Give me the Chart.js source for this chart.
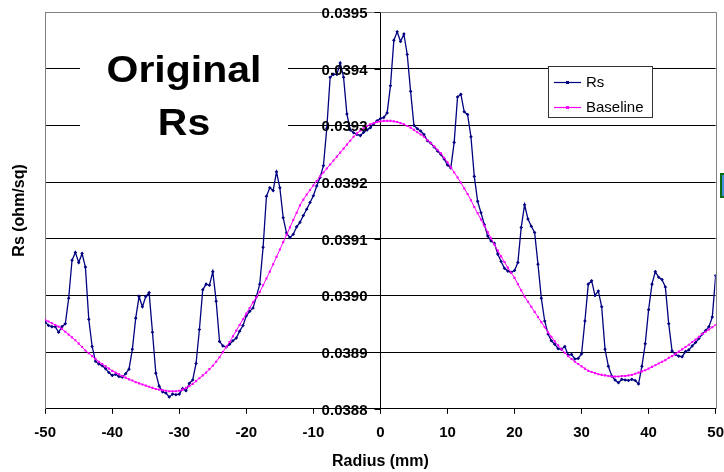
<!DOCTYPE html>
<html>
<head>
<meta charset="utf-8">
<script src="https://cdn.jsdelivr.net/npm/chart.js@4.4.1/dist/chart.umd.min.js"></script>
<style>
  html, body { margin: 0; padding: 0; background: #fff; }
</style>
</head>
<body>
<canvas id="rsChart" width="724" height="472"></canvas>
<script>
// radius positions (mm)
const radius = [
  -50,-49.5,-49,-48.5,-48,-47.5,-47,-46.5,-46,-45.5,-45,-44.5,-44,-43.5,-43,-42.5,-42,-41.5,-41,-40.5,
  -40,-39.5,-39,-38.5,-38,-37.5,-37,-36.5,-36,-35.5,-35,-34.5,-34,-33.5,-33,-32.5,-32,-31.5,-31,-30.5,
  -30,-29.5,-29,-28.5,-28,-27.5,-27,-26.5,-26,-25.5,-25,-24.5,-24,-23.5,-23,-22.5,-22,-21.5,-21,-20.5,
  -20,-19.5,-19,-18.5,-18,-17.5,-17,-16.5,-16,-15.5,-15,-14.5,-14,-13.5,-13,-12.5,-12,-11.5,-11,-10.5,
  -10,-9.5,-9,-8.5,-8,-7.5,-7,-6.5,-6,-5.5,-5,-4.5,-4,-3.5,-3,-2.5,-2,-1.5,-1,-0.5,
  0,0.5,1,1.5,2,2.5,3,3.5,4,4.5,5,5.5,6,6.5,7,7.5,8,8.5,9,9.5,
  10,10.5,11,11.5,12,12.5,13,13.5,14,14.5,15,15.5,16,16.5,17,17.5,18,18.5,19,19.5,
  20,20.5,21,21.5,22,22.5,23,23.5,24,24.5,25,25.5,26,26.5,27,27.5,28,28.5,29,29.5,
  30,30.5,31,31.5,32,32.5,33,33.5,34,34.5,35,35.5,36,36.5,37,37.5,38,38.5,39,39.5,
  40,40.5,41,41.5,42,42.5,43,43.5,44,44.5,45,45.5,46,46.5,47,47.5,48,48.5,49,49.5,
  50
];

// measured sheet resistance (ohm/sq)
const rs = [
  0.038953,0.038947,0.038945,0.038945,0.038935,0.038945,0.038950,0.038995,0.039062,0.039076,0.039058,0.039074,0.039050,0.038958,0.038910,0.038884,0.038879,0.038876,0.038871,0.038864,
  0.038859,0.038861,0.038857,0.038856,0.038862,0.038870,0.038905,0.038960,0.038998,0.038980,0.038998,0.039005,0.038935,0.038863,0.038840,0.038830,0.038828,0.038821,0.038826,0.038825,
  0.038826,0.038836,0.038832,0.038845,0.038851,0.038880,0.038940,0.039010,0.039020,0.039018,0.039042,0.038990,0.038919,0.038911,0.038909,0.038914,0.038920,0.038925,0.038937,0.038947,
  0.038964,0.038972,0.038978,0.038998,0.039020,0.039085,0.039175,0.039190,0.039185,0.039218,0.039190,0.039137,0.039110,0.039102,0.039108,0.039121,0.039129,0.039141,0.039152,0.039164,
  0.039176,0.039193,0.039208,0.039229,0.039295,0.039385,0.039390,0.039390,0.039410,0.039385,0.039320,0.039292,0.039287,0.039284,0.039282,0.039288,0.039292,0.039296,0.039303,0.039308,
  0.039312,0.039314,0.039322,0.039370,0.039450,0.039465,0.039448,0.039461,0.039425,0.039360,0.039300,0.039294,0.039290,0.039284,0.039273,0.039269,0.039262,0.039255,0.039249,0.039241,
  0.039230,0.039225,0.039270,0.039350,0.039355,0.039324,0.039319,0.039280,0.039210,0.039166,0.039146,0.039125,0.039105,0.039096,0.039092,0.039073,0.039060,0.039048,0.039043,0.039041,
  0.039044,0.039058,0.039120,0.039160,0.039135,0.039122,0.039111,0.039055,0.038995,0.038955,0.038932,0.038920,0.038914,0.038906,0.038905,0.038910,0.038895,0.038896,0.038888,0.038889,
  0.038897,0.038955,0.039020,0.039026,0.039000,0.039008,0.038980,0.038905,0.038875,0.038858,0.038851,0.038846,0.038852,0.038851,0.038850,0.038852,0.038850,0.038844,0.038875,0.038915,
  0.038975,0.039020,0.039042,0.039032,0.039028,0.039015,0.038950,0.038902,0.038896,0.038893,0.038892,0.038901,0.038904,0.038911,0.038917,0.038924,0.038932,0.038938,0.038945,0.038962,
  0.039035
];

// fitted baseline (ohm/sq)
const baseline = [
  0.038957,0.038954,0.038951,0.038948,0.038945,0.038941,0.038936,0.038931,0.038926,0.038921,0.038915,0.038909,0.038903,0.038898,0.038893,0.038888,0.038883,0.038879,0.038875,0.038871,
  0.038867,0.038864,0.038861,0.038858,0.038855,0.038852,0.038850,0.038847,0.038845,0.038843,0.038841,0.038839,0.038837,0.038835,0.038834,0.038833,0.038832,0.038831,0.038831,0.038831,
  0.038832,0.038834,0.038837,0.038840,0.038844,0.038849,0.038854,0.038859,0.038864,0.038870,0.038876,0.038883,0.038891,0.038900,0.038909,0.038918,0.038928,0.038938,0.038948,0.038958,
  0.038968,0.038978,0.038988,0.038997,0.039006,0.039018,0.039030,0.039042,0.039055,0.039068,0.039081,0.039094,0.039107,0.039120,0.039133,0.039146,0.039159,0.039169,0.039178,0.039186,
  0.039194,0.039202,0.039210,0.039217,0.039224,0.039231,0.039238,0.039245,0.039252,0.039259,0.039266,0.039273,0.039280,0.039286,0.039291,0.039295,0.039299,0.039302,0.039304,0.039306,
  0.039307,0.039308,0.039308,0.039308,0.039307,0.039306,0.039304,0.039302,0.039299,0.039296,0.039292,0.039288,0.039284,0.039280,0.039274,0.039269,0.039263,0.039257,0.039251,0.039243,
  0.039235,0.039226,0.039217,0.039208,0.039199,0.039189,0.039179,0.039168,0.039156,0.039145,0.039134,0.039123,0.039112,0.039101,0.039090,0.039079,0.039069,0.039059,0.039049,0.039040,
  0.039031,0.039020,0.039009,0.038998,0.038989,0.038980,0.038971,0.038962,0.038953,0.038944,0.038935,0.038927,0.038919,0.038912,0.038905,0.038899,0.038893,0.038888,0.038883,0.038879,
  0.038875,0.038871,0.038867,0.038865,0.038863,0.038861,0.038860,0.038859,0.038858,0.038857,0.038857,0.038857,0.038858,0.038858,0.038859,0.038860,0.038862,0.038864,0.038866,0.038868,
  0.038871,0.038874,0.038877,0.038880,0.038883,0.038886,0.038890,0.038893,0.038897,0.038901,0.038905,0.038909,0.038913,0.038918,0.038922,0.038927,0.038932,0.038936,0.038940,0.038944,
  0.038948
];

const xTicks = [-50, -40, -30, -20, -10, 0, 10, 20, 30, 40, 50];
const yTicks = ['0.0388', '0.0389', '0.0390', '0.0391', '0.0392', '0.0393', '0.0394', '0.0395'];
const seriesNames = ['Rs', 'Baseline'];
const chartTitle = ['Original', 'Rs'];

const FONT = '"Liberation Sans", Arial, sans-serif';
const NAVY = '#000080';
const MAGENTA = '#ff00ff';

// labels at the x=0 axis, title panel, legend box, frame
const decor = {
  id: 'decor',
  beforeDatasetsDraw(chart) {
    const ctx = chart.ctx;
    ctx.save();
    ctx.fillStyle = '#fff';
    ctx.fillRect(80, 40, 208, 110);
    ctx.fillStyle = '#000';
    ctx.font = 'bold 37px ' + FONT;
    ctx.textBaseline = 'alphabetic';
    ctx.textAlign = 'center';
    const w = ctx.measureText(chartTitle[0]).width;
    const sx = 155 / w;
    ctx.translate(184, 0);
    ctx.scale(sx, 1);
    ctx.fillText(chartTitle[0], 0, 82);
    ctx.fillText(chartTitle[1], 0, 135);
    ctx.restore();
  },
  afterDatasetsDraw(chart) {
    const { ctx, chartArea: a, scales: { x, y } } = chart;
    const ax = Math.round(x.getPixelForValue(0)) + 0.5;
    ctx.save();

    // frame top / right
    ctx.strokeStyle = '#808080';
    ctx.lineWidth = 1;
    ctx.beginPath();
    ctx.moveTo(a.left, Math.round(a.top) + 0.5);
    ctx.lineTo(Math.round(a.right) + 0.5, Math.round(a.top) + 0.5);
    ctx.lineTo(Math.round(a.right) + 0.5, a.bottom);
    ctx.stroke();

    // y tick marks and labels on the centre axis
    ctx.strokeStyle = '#000';
    ctx.fillStyle = '#000';
    ctx.font = 'bold 15px ' + FONT;
    ctx.textAlign = 'right';
    ctx.textBaseline = 'middle';
    yTicks.forEach(t => {
      const py = Math.round(y.getPixelForValue(parseFloat(t))) + 0.5;
      ctx.beginPath();
      ctx.moveTo(ax - 6, py);
      ctx.lineTo(ax, py);
      ctx.stroke();
      ctx.fillText(t, ax - 13, py + 1);
    });

    // legend
    const lx = 548.5, ly = 66.5, lw = 104, lh = 51;
    ctx.fillStyle = '#fff';
    ctx.fillRect(lx, ly, lw, lh);
    ctx.strokeStyle = '#333';
    ctx.lineWidth = 1;
    ctx.strokeRect(lx, ly, lw, lh);
    ctx.font = '15px ' + FONT;
    ctx.textAlign = 'left';
    const rows = [
      { name: seriesNames[0], color: NAVY, yy: 82 },
      { name: seriesNames[1], color: MAGENTA, yy: 107 }
    ];
    rows.forEach(r => {
      ctx.strokeStyle = r.color;
      ctx.lineWidth = 1.2;
      ctx.beginPath();
      ctx.moveTo(554, r.yy + 0.5);
      ctx.lineTo(581, r.yy + 0.5);
      ctx.stroke();
      ctx.fillStyle = r.color;
      ctx.fillRect(566, r.yy - 1, 3, 3);
      ctx.fillStyle = '#000';
      ctx.fillText(r.name, 586, r.yy + 1);
    });

    // clipped marker at the right edge
    ctx.fillStyle = '#3c8fd8';
    ctx.fillRect(721, 174, 6, 23);
    ctx.strokeStyle = '#0b6b12';
    ctx.lineWidth = 2;
    ctx.strokeRect(721, 174, 10, 23);
    ctx.restore();
  }
};

new Chart(document.getElementById('rsChart'), {
  type: 'line',
  data: {
    datasets: [
      {
        label: seriesNames[0],
        data: radius.map((r, i) => ({ x: r, y: rs[i] })),
        borderColor: NAVY,
        backgroundColor: NAVY,
        borderWidth: 1.3,
        pointStyle: 'rectRot',
        pointRadius: 1.8,
        pointBorderWidth: 0,
        tension: 0,
        order: 2
      },
      {
        label: seriesNames[1],
        data: radius.map((r, i) => ({ x: r, y: baseline[i] })),
        borderColor: MAGENTA,
        backgroundColor: MAGENTA,
        borderWidth: 1,
        pointStyle: 'rect',
        pointRadius: 1.5,
        pointBorderWidth: 0,
        tension: 0,
        order: 1
      }
    ]
  },
  options: {
    responsive: false,
    animation: false,
    devicePixelRatio: 1,
    layout: { padding: { left: 9, right: 8, top: 12, bottom: 0 } },
    plugins: { legend: { display: false }, tooltip: { enabled: false } },
    scales: {
      x: {
        type: 'linear',
        min: -50,
        max: 50,
        afterBuildTicks: s => { s.ticks = xTicks.map(v => ({ value: v })); },
        grid: {
          color: c => (c.tick && c.tick.value === 0 ? '#000' : 'rgba(0,0,0,0)'),
          tickColor: '#000',
          tickLength: 5,
          lineWidth: 1
        },
        border: { color: '#000', width: 1 },
        ticks: {
          color: '#000',
          font: { family: FONT, size: 15, weight: 'bold', lineHeight: 2.53 },
          padding: 0,
          maxRotation: 0,
          autoSkip: false
        },
        title: {
          display: true,
          text: 'Radius (mm)',
          color: '#000',
          font: { family: FONT, size: 16, weight: 'bold' },
          padding: { top: 0, bottom: 1 }
        }
      },
      y: {
        type: 'linear',
        min: 0.0388,
        max: 0.0395,
        afterBuildTicks: s => { s.ticks = yTicks.map(t => ({ value: parseFloat(t) })); },
        grid: {
          color: c => (c.index === yTicks.length - 1 ? '#808080' : '#000'),
          drawTicks: false,
          lineWidth: 1
        },
        border: { color: '#808080', width: 1 },
        ticks: { display: false },
        title: {
          display: true,
          text: 'Rs (ohm/sq)',
          color: '#000',
          font: { family: FONT, size: 16, weight: 'bold' },
          padding: { top: 1, bottom: 16 }
        }
      }
    }
  },
  plugins: [decor]
});
</script>
</body>
</html>
